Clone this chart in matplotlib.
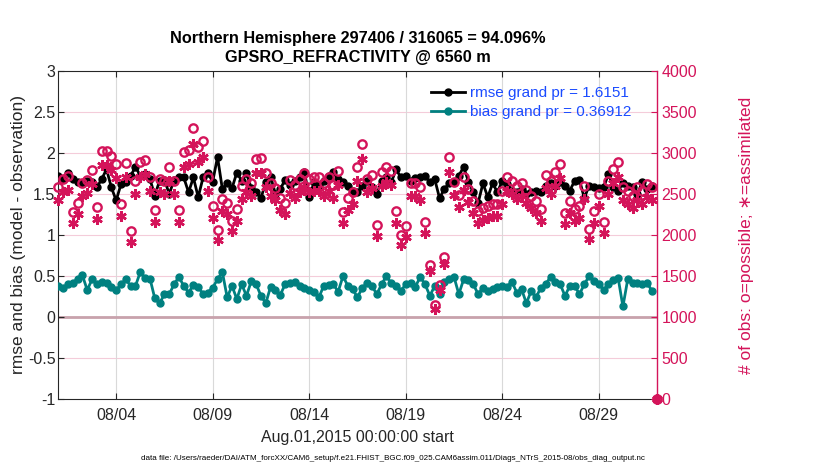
import numpy as np
import pandas as pd
import matplotlib
matplotlib.use("Agg")
import matplotlib.pyplot as plt
import matplotlib.dates as mdates

plt.rcParams['font.family'] = ['Liberation Sans', 'DejaVu Sans']

# 6-hourly bins, Aug 1 2015 00Z .. Aug 31 18Z (plus the empty Sep 1 00Z bin)
times = pd.date_range('2015-08-01 00:00', periods=125, freq='6h')

rmse = [1.72, 1.68, 1.75, 1.68, 1.65, 1.63, 1.66, 1.65, 1.58, 1.68, 1.80, 1.58, 1.42, 1.62, 1.64, 1.72,
        1.83, 1.72, 1.74, 1.68, 1.48, 1.66, 1.67, 1.50, 1.67, 1.71, 1.70, 1.52, 1.70, 1.46, 1.70,
        1.75, 1.65, 1.95, 1.56, 1.63, 1.57, 1.76, 1.66, 1.75, 1.57, 1.52, 1.45, 1.64, 1.71, 1.50, 1.56,
        1.67, 1.61, 1.66, 1.70, 1.77, 1.46, 1.64, 1.61, 1.66, 1.72, 1.77, 1.68, 1.64, 1.60, 1.54,
        1.52, 1.60, 1.66, 1.58, 1.50, 1.66, 1.70, 1.64, 1.80, 1.70, 1.72, 1.66, 1.69, 1.70, 1.72, 1.64,
        1.68, 1.45, 1.56, 1.63, 1.65, 1.72, 1.83, 1.65, 1.52, 1.39, 1.63, 1.46, 1.63, 1.52, 1.66,
        1.62, 1.54, 1.52, 1.56, 1.50, 1.52, 1.54, 1.52, 1.60, 1.63, 1.60, 1.64, 1.60, 1.54, 1.66, 1.67,
        1.45, 1.60, 1.59, 1.57, 1.58, 1.74, 1.59, 1.54, 1.63, 1.60, 1.58, 1.50, 1.64, 1.56, 1.60]

bias = [0.38, 0.36, 0.40, 0.42, 0.46, 0.51, 0.33, 0.46, 0.40, 0.43, 0.41, 0.37, 0.33, 0.40, 0.46, 0.38,
        0.38, 0.55, 0.48, 0.47, 0.23, 0.17, 0.28, 0.28, 0.40, 0.49, 0.38, 0.30, 0.39, 0.37, 0.28,
        0.30, 0.36, 0.46, 0.55, 0.24, 0.38, 0.22, 0.40, 0.26, 0.44, 0.40, 0.26, 0.17, 0.37, 0.33, 0.27,
        0.40, 0.42, 0.43, 0.38, 0.36, 0.33, 0.31, 0.24, 0.38, 0.39, 0.40, 0.31, 0.50, 0.38, 0.34,
        0.24, 0.36, 0.41, 0.38, 0.28, 0.40, 0.50, 0.41, 0.38, 0.32, 0.40, 0.41, 0.37, 0.49, 0.40, 0.26,
        0.38, 0.28, 0.43, 0.47, 0.49, 0.28, 0.46, 0.45, 0.40, 0.28, 0.36, 0.32, 0.34, 0.37, 0.38,
        0.37, 0.43, 0.30, 0.34, 0.17, 0.32, 0.24, 0.36, 0.40, 0.49, 0.43, 0.40, 0.26, 0.38, 0.38, 0.28,
        0.40, 0.50, 0.44, 0.40, 0.33, 0.40, 0.45, 0.48, 0.13, 0.46, 0.41, 0.41, 0.40, 0.42, 0.32]

nposs = [2580, 2680, 2713, 2282, 2393, 2639, 2668, 2791, 2340, 3028, 3028, 2967, 2864, 2372, 2877, 2045,
         2660, 2885, 2914, 2700, 2299, 2680, 2660, 2832, 2660, 2299, 3008, 3040, 3307, 3070, 3139,
         2700, 2352, 2065, 2434, 2393, 2176, 2311, 2598, 2680, 2639, 2926, 2938, 2750, 2639, 2578, 2446,
         2393, 2668, 2610, 2680, 2750, 2680, 2700, 2700, 2639, 2700, 2610, 2774, 2282, 2446, 2528,
         2832, 3110, 2680, 2733, 2118, 2762, 2823, 2774, 2290, 2003, 2106, 2639, 2639, 2586, 2159, 1630,
         1150, 1386, 1730, 2947, 2651, 2487, 2709, 2560, 2414, 2290, 2323, 2352, 2372, 2372, 2537, 2700,
         2660, 2600, 2639, 2545, 2480, 2414, 2311, 2733, 2660, 2762, 2864, 2270, 2414, 2311, 2352, 2600,
         2077, 2290, 2504, 2159, 2660, 2803, 2885, 2586, 2537, 2475, 2586, 2537, 2619, 2580, 0]

nused = [2430, 2520, 2550, 2140, 2250, 2480, 2510, 2620, 2200, 2850, 2850, 2790, 2690, 2230, 2700, 1920,
         2500, 2710, 2740, 2540, 2160, 2520, 2500, 2660, 2500, 2160, 2830, 2860, 3110, 2890, 2950,
         2540, 2210, 1940, 2290, 2250, 2050, 2170, 2440, 2520, 2480, 2750, 2760, 2590, 2480, 2420, 2300,
         2250, 2510, 2450, 2520, 2590, 2520, 2540, 2540, 2480, 2540, 2450, 2610, 2150, 2300, 2380,
         2660, 2920, 2520, 2570, 1990, 2600, 2650, 2610, 2150, 1880, 1980, 2480, 2480, 2430, 2030, 1560,
         1100, 1330, 1650, 2770, 2490, 2340, 2550, 2400, 2270, 2150, 2180, 2210, 2230, 2230, 2380, 2540,
         2500, 2440, 2480, 2390, 2330, 2270, 2170, 2570, 2500, 2600, 2690, 2130, 2270, 2170, 2210, 2440,
         1950, 2150, 2350, 2030, 2500, 2630, 2710, 2430, 2380, 2330, 2430, 2380, 2460, 2420, 0]

tick_days = ['2015-08-04', '2015-08-09', '2015-08-14', '2015-08-19', '2015-08-24', '2015-08-29']

title = 'Northern Hemisphere 297406 / 316065 = 94.096%\nGPSRO_REFRACTIVITY @ 6560 m'
rmse_label = 'rmse grand pr = 1.6151'
bias_label = 'bias grand pr = 0.36912'
datafile = ('data file: /Users/raeder/DAI/ATM_forcXX/CAM6_setup/f.e21.FHIST_BGC.f09_025.'
            'CAM6assim.011/Diags_NTrS_2015-08/obs_diag_output.nc')

crimson = '#D4145A'
teal = '#008080'
axcol = '#262626'

fig = plt.figure(figsize=(8.3, 4.7), dpi=100)
ax = fig.add_axes([0.0702, 0.1504, 0.7210, 0.6992])

ax.set_xlim(times[0], times[-1])
ax.set_ylim(-1, 3)
ax.set_yticks(np.arange(-1, 3.01, 0.5))
ax.set_yticklabels(['-1', '-0.5', '0', '0.5', '1', '1.5', '2', '2.5', '3'])
ax.set_xticks(pd.to_datetime(tick_days))
ax.xaxis.set_major_formatter(mdates.DateFormatter('%m/%d'))

# grid: pink horizontals from the count axis, grey verticals at date ticks
for v in np.arange(-0.5, 3.0, 0.5):
    ax.axhline(v, color='#F4CCDA', lw=0.8, zorder=0)
for t in pd.to_datetime(tick_days):
    ax.axvline(t, color='#D9D9D9', lw=0.8, zorder=0)
ax.axhline(0, color='#C8A2AC', lw=2, zorder=0.5)

ax.plot(times[:124], rmse, '-o', color='black', lw=2, ms=5, label=rmse_label, zorder=3)
ax.plot(times[:124], bias, '-o', color=teal, lw=2, ms=5, label=bias_label, zorder=3)

ax.tick_params(direction='in', top=True, labelsize=11.5, colors=axcol, length=4)
ax.tick_params(axis='x', pad=6)
ax.tick_params(axis='y', pad=2)
for s in ['left', 'bottom', 'top']:
    ax.spines[s].set_color(axcol)
ax.spines['right'].set_visible(False)
ax.set_ylabel('rmse and bias (model - observation)', fontsize=12.5, color=axcol, labelpad=1)
ax.set_xlabel('Aug.01,2015 00:00:00 start', fontsize=11.5, color=axcol, labelpad=5)
ax.set_title(title, fontsize=11.7, fontweight='bold', color='black', pad=6, linespacing=1.4)

leg = ax.legend(loc='upper right', frameon=False, fontsize=11, handlelength=2.2,
                borderaxespad=0.3, labelspacing=0.3, handletextpad=0.3,
                bbox_to_anchor=(0.975, 0.985))
for txt in leg.get_texts():
    txt.set_color('#1A4BFF')

ax2 = ax.twinx()
ax2.set_ylim(0, 4000)
ax2.set_yticks(np.arange(0, 4001, 500))
ax2.plot(times, nposs, 'o', mfc='none', mec=crimson, mew=1.7, ms=6, clip_on=False, zorder=2)
ax2.plot(times, nused, marker=(6, 2, 0), ls='none', color=crimson, mew=1.8, ms=7.5,
         clip_on=False, zorder=2)
ax2.tick_params(direction='in', labelsize=11.5, colors=crimson, length=4)
ax2.spines['right'].set_color(crimson)
ax2.spines['right'].set_linewidth(1.0)
for s in ['left', 'bottom', 'top']:
    ax2.spines[s].set_visible(False)
ax2.set_ylabel('# of obs: o=possible; \u2217=assimilated', fontsize=12.5, color=crimson, labelpad=30)

fig.text(0.4735, 0.021, datafile, fontsize=5.8, ha='center', color='black')

fig.savefig('out.png', dpi=100)
